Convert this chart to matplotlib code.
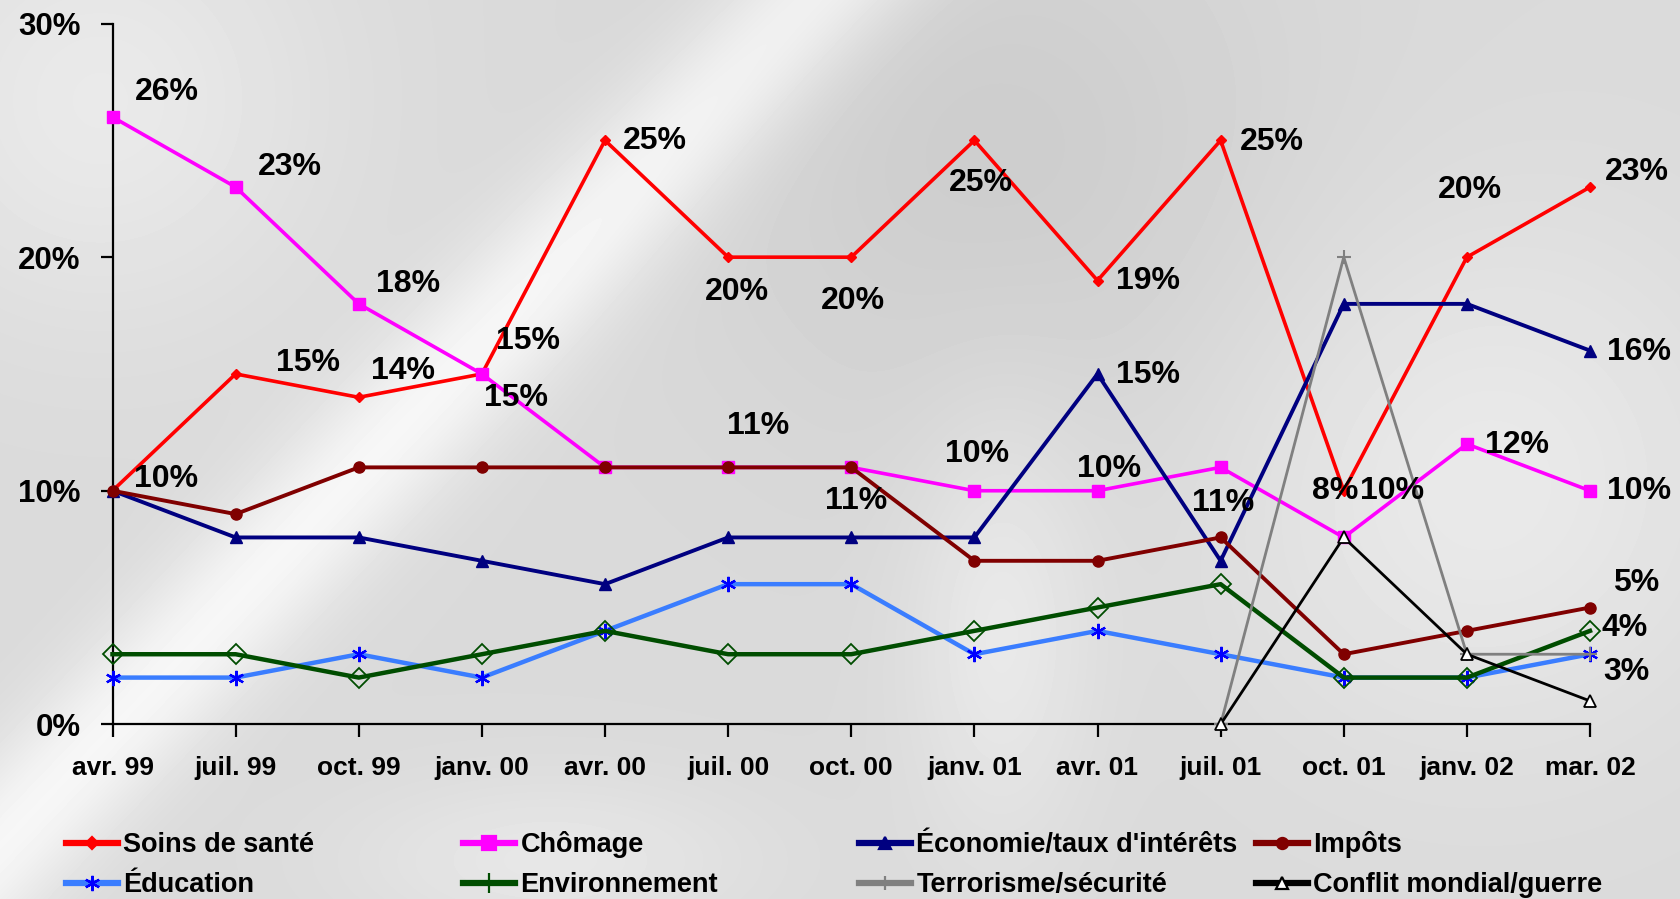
import numpy as np
import matplotlib
matplotlib.use("Agg")
import matplotlib.pyplot as plt
from matplotlib.lines import Line2D

# ---------------- data ----------------
periods = ["avr. 99", "juil. 99", "oct. 99", "janv. 00", "avr. 00", "juil. 00", "oct. 00",
           "janv. 01", "avr. 01", "juil. 01", "oct. 01", "janv. 02", "mar. 02"]
nan = np.nan
soins = [10, 15, 14, 15, 25, 20, 20, 25, 19, 25, 10, 20, 23]
chomage = [26, 23, 18, 15, 11, 11, 11, 10, 10, 11, 8, 12, 10]
economie = [10, 8, 8, 7, 6, 8, 8, 8, 15, 7, 18, 18, 16]
impots = [10, 9, 11, 11, 11, 11, 11, 7, 7, 8, 3, 4, 5]
education = [2, 2, 3, 2, 4, 6, 6, 3, 4, 3, 2, 2, 3]
environnement = [3, 3, 2, 3, 4, 3, 3, 4, 5, 6, 2, 2, 4]
terrorisme = [nan, nan, nan, nan, nan, nan, nan, nan, nan, 0, 20, 3, 3]
conflit = [nan, nan, nan, nan, nan, nan, nan, nan, nan, 0, 8, 3, 1]

series_names = ["Soins de santé", "Chômage", "Économie/taux d'intérêts", "Impôts",
                "Éducation", "Environnement", "Terrorisme/sécurité", "Conflit mondial/guerre"]
yticks = [0, 10, 20, 30]
ytick_labels = ["0%", "10%", "20%", "30%"]

# which points carry a data label
soins_lbl_idx = list(range(13))
chomage_lbl_idx = [0, 1, 2, 3, 5, 6, 7, 8, 9, 10, 11, 12]

# ---------------- style ----------------
FONT = "Liberation Sans"
plt.rcParams["font.family"] = [FONT, "DejaVu Sans"]
plt.rcParams["font.weight"] = "bold"
LBL_FS = 23
YT_FS = 22.5
XT_FS = 19
LEG_FS = 19.5

W, H = 1680, 899
fig = plt.figure(figsize=(W / 100, H / 100), dpi=100)

# background (soft grey with light swooshes)
bg = fig.add_axes([0, 0, 1, 1], zorder=-10)
yy, xx = np.mgrid[0:H, 0:W].astype(float)
v = np.full((H, W), 0.855)
p0 = np.array([620.0, 200.0]); p1 = np.array([120.0, 720.0])
d = p1 - p0; d /= np.hypot(*d)
nrm = np.array([-d[1], d[0]])
dist = (xx - p0[0]) * nrm[0] + (yy - p0[1]) * nrm[1]
v += 0.11 * np.exp(-(dist / 70.0) ** 2)
v += 0.06 * np.exp(-(((xx - 1480) ** 2) + ((yy - 480) ** 2)) / 260.0 ** 2)
v -= 0.05 * np.exp(-(((xx - 1000) ** 2) + ((yy - 160) ** 2)) / 300.0 ** 2)
v += 0.06 * np.exp(-(((xx - 100) ** 2) + ((yy - 100) ** 2)) / 220.0 ** 2)
v += 0.06 * np.exp(-(((xx - 1000) ** 2) / 90.0 ** 2) - ((yy - 620) ** 2) / 220.0 ** 2)
v += 0.05 * np.exp(-(((xx - 550) ** 2) / 200.0 ** 2) - ((yy - 860) ** 2) / 80.0 ** 2)
v = np.clip(v, 0, 1)
bg.imshow(v, cmap="gray", vmin=0, vmax=1, aspect="auto", interpolation="bilinear")
bg.axis("off")

ax = fig.add_axes([112.5 / W, 1 - 724.3 / H, (1590 - 112.5) / W, (724.3 - 23.6) / H])
ax.set_facecolor("none")
x = np.arange(len(periods))

styles = [
    dict(color="#FF0000", lw=2.6, marker="D", ms=5, mfc="#FF0000", mec="#FF0000"),
    dict(color="#FF00FF", lw=2.6, marker="s", ms=9, mfc="#FF00FF", mec="#FF00FF"),
    dict(color="#000080", lw=2.8, marker="^", ms=8, mfc="#000080", mec="#000080"),
    dict(color="#800000", lw=2.8, marker="o", ms=8, mfc="#800000", mec="#800000"),
    dict(color="#3A7DFF", lw=3.2, marker=(6, 2, 0), ms=11, mfc="#0000FF", mec="#0000FF", mew=1.6),
    dict(color="#004D00", lw=3.2, marker="D", ms=10, mfc="none", mec="#004D00", mew=1.3),
    dict(color="#808080", lw=2.0, marker="+", ms=10, mfc="#808080", mec="#808080", mew=1.5),
    dict(color="#000000", lw=2.0, marker="^", ms=8, mfc="white", mec="#000000", mew=1.3),
]
all_series = [soins, chomage, economie, impots, education, environnement, terrorisme, conflit]
for i, (s, st) in enumerate(zip(all_series, styles)):
    ax.plot(x, s, zorder=3 + i, clip_on=False, **st)

ax.set_xlim(0, len(periods) - 1)
ax.set_ylim(0, 30)
ax.set_yticks(yticks)
ax.set_yticklabels(ytick_labels)
ax.set_xticks(x)
ax.set_xticklabels(periods)
for sp in ["top", "right"]:
    ax.spines[sp].set_visible(False)
for sp in ["left", "bottom"]:
    ax.spines[sp].set_linewidth(1.6)
ax.tick_params(axis="y", length=9, width=1.6, pad=14, labelsize=YT_FS)
ax.tick_params(axis="x", length=9, width=1.6, pad=14, labelsize=XT_FS)
for t in ax.get_xticklabels() + ax.get_yticklabels():
    t.set_fontweight("bold")

# data labels: offsets in pixels (text centre relative to point)
soins_off = [(54, 12), (72, 11), (44, 26), (46, 33), (50, -1), (9, -35), (2, -44),
             (7, -43), (50, 0), (51, -2), (48, 0), (3, 67), (47, 15)]
chomage_off = [(54, 25), (54, 20), (49, 20), (34, -24), (30, 41), (5, -34), (3, 37),
               (12, 22), (2, -36), (-9, 46), (50, -1), (49, 0)]
extra = [  # (series, point index, offset)
    (economie, 8, (50, -1)), (economie, 12, (49, -1)),
    (impots, 12, (46, 25)), (environnement, 12, (35, 3)), (education, 12, (36, -18)),
]


def lab(series, i, off):
    ax.annotate(f"{series[i]:g}%", (x[i], series[i]), xytext=off, textcoords="offset pixels",
                ha="center", va="center", fontsize=LBL_FS, fontweight="bold", zorder=20,
                annotation_clip=False)


for i, off in zip(soins_lbl_idx, soins_off):
    lab(soins, i, off)
for i, off in zip(chomage_lbl_idx, chomage_off):
    lab(chomage, i, off)
for s, i, off in extra:
    lab(s, i, off)

# legend: 2 rows x 4 columns, grid placement like the original
leg_markers = ["D", "s", "^", "o", (6, 2, 0), "|", "+", "^"]
leg_ms = [6, 10, 8, 8, 11, 14, 10, 8]
col_x = [66, 463, 859, 1256]
row_y = [845, 885]
for k, name in enumerate(series_names):
    st = styles[k]
    h = Line2D([], [], color=st["color"], lw=4.5, marker=leg_markers[k], ms=leg_ms[k],
               mfc=("white" if k == 7 else st["mfc"]),
               mec=(st["color"] if k == 5 else st["mec"]), mew=1.6)
    r, c = divmod(k, 4)
    fig.legend([h], [name], loc="center left",
               bbox_to_anchor=(col_x[c] / W, 1 - row_y[r] / H),
               frameon=False, borderpad=0, borderaxespad=0,
               handlelength=52 / (LEG_FS * 100 / 72), handletextpad=0.2,
               prop=dict(family=[FONT, "DejaVu Sans"], weight="bold", size=LEG_FS))

fig.savefig("out.png", dpi=100)
